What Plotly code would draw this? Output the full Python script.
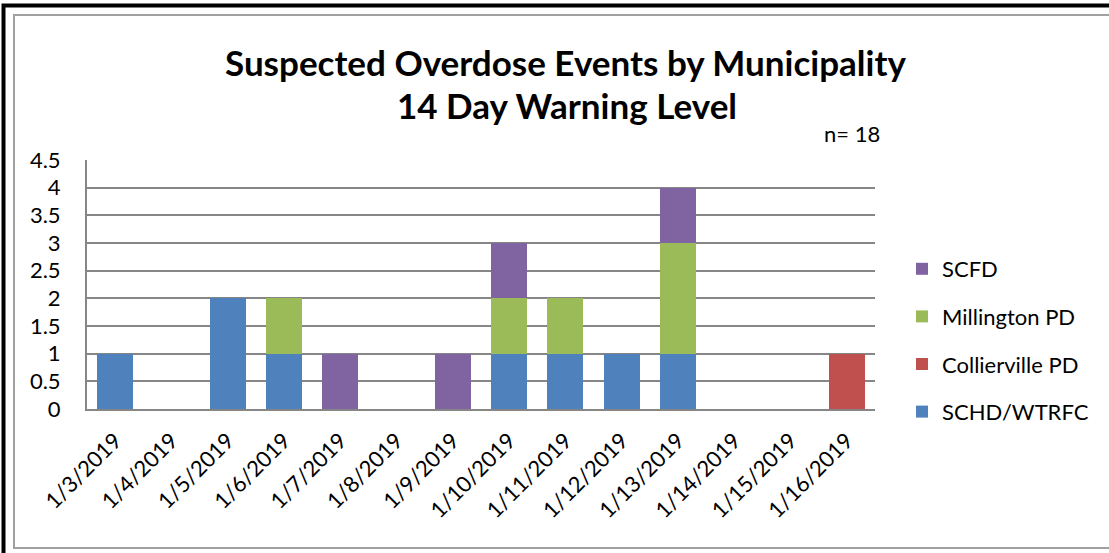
import plotly.graph_objects as go

dates = ["1/3/2019", "1/4/2019", "1/5/2019", "1/6/2019", "1/7/2019", "1/8/2019",
         "1/9/2019", "1/10/2019", "1/11/2019", "1/12/2019", "1/13/2019",
         "1/14/2019", "1/15/2019", "1/16/2019"]
schd = [1, 0, 2, 1, 0, 0, 0, 1, 1, 1, 1, 0, 0, 0]
collierville = [0, 0, 0, 0, 0, 0, 0, 0, 0, 0, 0, 0, 0, 1]
millington = [0, 0, 0, 1, 0, 0, 0, 1, 1, 0, 2, 0, 0, 0]
scfd = [0, 0, 0, 0, 1, 0, 1, 1, 0, 0, 1, 0, 0, 0]
y_ticks = [0, 0.5, 1, 1.5, 2, 2.5, 3, 3.5, 4, 4.5]
y_tick_text = ["0", "0.5", "1", "1.5", "2", "2.5", "3", "3.5", "4", "4.5"]

series = [
    ("SCHD/WTRFC", schd, "#4F81BD", 4),
    ("Collierville PD", collierville, "#C0504D", 3),
    ("Millington PD", millington, "#9BBB59", 2),
    ("SCFD", scfd, "#8064A2", 1),
]

FONT = "Lato"
fig = go.Figure()
for name, vals, color, rank in series:
    fig.add_trace(go.Bar(
        x=dates, y=vals, name=name, legendgroup=name, legendrank=rank,
        marker=dict(color=color, line=dict(width=0)),
    ))

# plot area in page pixels
L, R, T, B = 87, 875, 160, 409
W, H = 1109, 553

def px(x):
    return (x - L) / (R - L)

def py(y):
    return (B - y) / (B - T)

fig.update_layout(
    width=W, height=H,
    margin=dict(l=L, r=W - R, t=T, b=H - B, pad=0),
    barmode="stack", bargap=0.36,
    paper_bgcolor="white", plot_bgcolor="white",
    font=dict(family=FONT, size=22, color="black"),
    xaxis=dict(type="category", tickangle=-45, showgrid=False,
               showline=True, linecolor="#868686", linewidth=2,
               ticks="", ticklabelstandoff=8,
               tickfont=dict(size=22, family=FONT), mirror=False),
    yaxis=dict(range=[0, 4.5], tickvals=y_ticks, ticktext=y_tick_text,
               showgrid=True, gridcolor="#868686", gridwidth=1.5,
               showline=True, linecolor="#868686", linewidth=2,
               ticks="", ticklabelstandoff=20, zeroline=False,
               tickfont=dict(size=22, family=FONT)),
    legend=dict(x=px(902), y=py(248), xanchor="left", yanchor="top",
                traceorder="grouped", tracegroupgap=16,
                font=dict(size=22, family=FONT), itemwidth=30,
                bgcolor="rgba(0,0,0,0)"),
    showlegend=True,
)

fig.add_annotation(text="<b>Suspected Overdose Events by Municipality</b>",
                   xref="paper", yref="paper", x=px(565), y=py(62),
                   xanchor="center", yanchor="middle", showarrow=False,
                   font=dict(size=35, family=FONT, color="black"))
fig.add_annotation(text="<b>14 Day Warning Level</b>",
                   xref="paper", yref="paper", x=px(567), y=py(105),
                   xanchor="center", yanchor="middle", showarrow=False,
                   font=dict(size=35, family=FONT, color="black"))
fig.add_annotation(text="n= 18",
                   xref="paper", yref="paper", x=px(882), y=py(133),
                   xanchor="right", yanchor="middle", showarrow=False,
                   font=dict(size=22, family=FONT, color="black"))

# outer borders
fig.add_shape(type="rect", xref="paper", yref="paper",
              x0=px(3.5), x1=px(1125), y0=py(5.5), y1=py(570),
              line=dict(color="black", width=4), layer="above")
fig.add_shape(type="rect", xref="paper", yref="paper",
              x0=px(14), x1=px(1125), y0=py(15), y1=py(548),
              line=dict(color="#A0A0A0", width=2), layer="above")

fig.write_html("out.html", config={"displayModeBar": False},
               post_script="document.body.style.margin='0';")
